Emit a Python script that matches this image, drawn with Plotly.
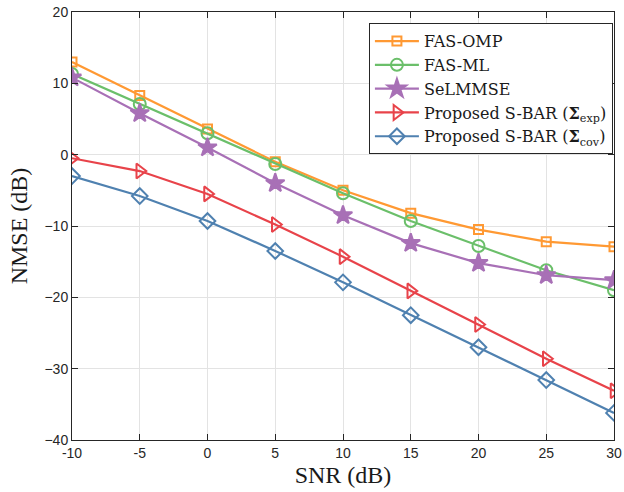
import plotly.graph_objects as go

snr = [-10, -5, 0, 5, 10, 15, 20, 25, 30]
fas_omp = [13.0, 8.3, 3.6, -1.0, -5.0, -8.2, -10.5, -12.2, -12.9]
fas_ml = [11.3, 7.1, 3.0, -1.3, -5.4, -9.3, -12.8, -16.2, -19.0]
selmmse = [10.8, 5.8, 1.0, -4.0, -8.5, -12.4, -15.2, -16.9, -17.6]
sbar_exp = [-0.5, -2.3, -5.5, -9.8, -14.3, -19.1, -23.8, -28.6, -33.1]
sbar_cov = [-3.0, -5.8, -9.3, -13.5, -17.9, -22.5, -27.0, -31.6, -36.2]
yticks = [-40, -30, -20, -10, 0, 10, 20]

names = ["FAS-OMP", "FAS-ML", "SeLMMSE",
         "Proposed S-BAR (<b>Σ</b><sub>exp</sub>)",
         "Proposed S-BAR (<b>Σ</b><sub>cov</sub>)"]
series = [fas_omp, fas_ml, selmmse, sbar_exp, sbar_cov]
colors = ["#FF9933", "#6BBF6A", "#A870B6", "#E8434A", "#4F81B0"]
symbols = ["square-open", "circle-open", "star", "triangle-right-open", "diamond-open"]
sizes = [9, 12, 14, 13, 12]

fig = go.Figure()
for n, s, c, sym, sz in zip(names, series, colors, symbols, sizes):
    fig.add_trace(go.Scatter(
        x=snr, y=s, name=n, mode="lines+markers",
        line=dict(color=c, width=2.2),
        marker=dict(symbol=sym, size=sz, color=c, line=dict(color=c, width=2)),
    ))

serif = "Liberation Serif, DejaVu Serif, serif"
fig.update_layout(
    width=624, height=492,
    margin=dict(l=72, r=10, t=12, b=52),
    plot_bgcolor="white", paper_bgcolor="white",
    font=dict(family="Liberation Sans, Arial", size=14, color="#262626"),
    showlegend=True,
    legend=dict(
        x=0.998, y=0.974, xanchor="right", yanchor="top",
        bgcolor="white", bordercolor="#262626", borderwidth=1,
        font=dict(family="DejaVu Serif, serif", size=16, color="#1a1a1a"),
        tracegroupgap=0, itemwidth=44,
    ),
)
fig.update_xaxes(
    title=dict(text="SNR (dB)", font=dict(family=serif, size=24, color="#1a1a1a"), standoff=6),
    automargin=False,
    range=[-10, 30], tickmode="array", tickvals=snr,
    ticktext=[str(v) for v in snr],
    showgrid=True, gridcolor="#E3E3E3", gridwidth=1,
    showline=True, linecolor="#262626", linewidth=1, mirror="ticks",
    ticks="inside", ticklen=6, tickcolor="#262626", zeroline=False,
)
fig.update_yaxes(
    title=dict(text="NMSE (dB)", font=dict(family=serif, size=24, color="#1a1a1a"), standoff=10),
    automargin=False,
    range=[-40, 20], tickmode="array", tickvals=yticks,
    showgrid=True, gridcolor="#E3E3E3", gridwidth=1,
    showline=True, linecolor="#262626", linewidth=1, mirror="ticks",
    ticks="inside", ticklen=6, tickcolor="#262626", zeroline=False,
)

fig.write_html("out.html", config={"displayModeBar": False},
               post_script="document.body.style.margin='0';")
